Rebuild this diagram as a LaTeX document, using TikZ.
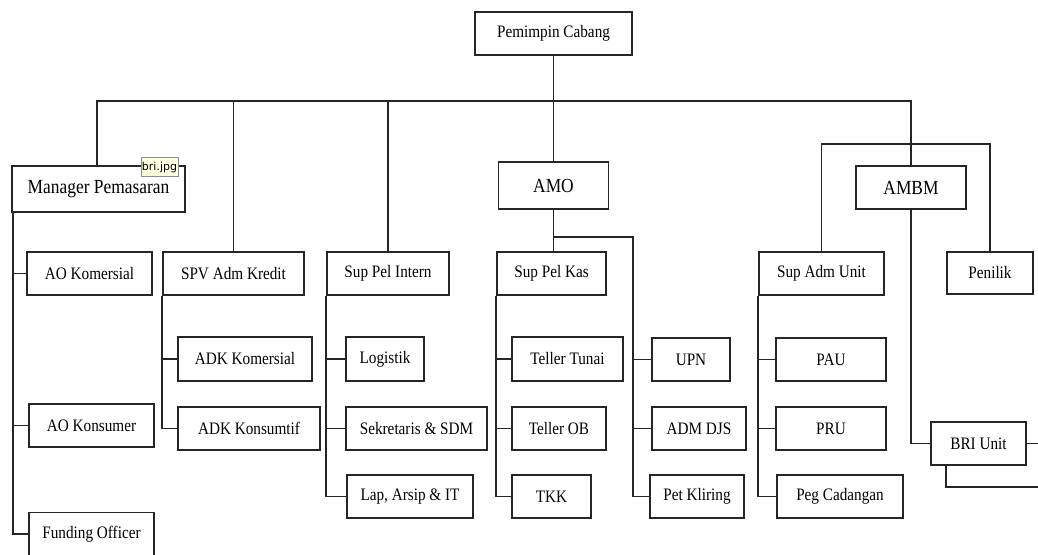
\documentclass[tikz,border=0pt]{standalone}
\usepackage{fontspec}
\setmainfont[FakeStretch=0.87]{Liberation Serif}
\newfontfamily\tipfont{DejaVu Sans}
\begin{document}
\begin{tikzpicture}[x=1pt,y=-1pt,
  box/.style={draw=black!85, line width=1.7pt, inner sep=0pt, font=\fontsize{17.5}{17.5}\selectfont},
  bigbox/.style={box, font=\fontsize{20}{20}\selectfont},
  conn/.style={draw=black!85, line width=1.7pt},
  tip/.style={draw=black!45, fill={rgb,255:red,255;green,255;blue,225}, line width=0.6pt, inner sep=1pt, minimum width=33pt, minimum height=19pt, font=\tipfont\fontsize{11}{11}\selectfont}]
\useasboundingbox (0,0) rectangle (1038,554);
% top levels
\node[box, minimum width=157pt, minimum height=43pt] (pc) at (553.5,33.5) {Pemimpin Cabang};
\node[bigbox, minimum width=173pt, minimum height=46pt] (mp) at (98.5,189) {Manager Pemasaran};
\node[bigbox, minimum width=110pt, minimum height=47pt] (amo) at (553.5,185.5) {AMO};
\node[bigbox, minimum width=110pt, minimum height=43pt] (ambm) at (911,187.5) {AMBM};
% column heads
\node[box, minimum width=125pt, minimum height=43pt] (aok) at (89.5,273.5) {AO Komersial};
\node[box, minimum width=125pt, minimum height=43pt] (aokon) at (91.5,425.5) {AO Konsumer};
\node[box, minimum width=125pt, minimum height=43pt] (fo) at (91.5,534) {Funding Officer};
\node[box, minimum width=141pt, minimum height=43pt] (spv) at (233.5,273.5) {SPV Adm Kredit};
\node[box, minimum width=134pt, minimum height=44pt] (adkk) at (245,359) {ADK Komersial};
\node[box, minimum width=142pt, minimum height=43pt] (adkn) at (249,428.5) {ADK Konsumtif};
\node[box, minimum width=122pt, minimum height=43pt] (spi) at (388,273.5) {Sup Pel Intern};
\node[box, minimum width=78pt, minimum height=44pt] (log) at (385,359) {Logistik};
\node[box, minimum width=141pt, minimum height=43pt] (sek) at (416.5,428.5) {Sekretaris \& SDM};
\node[box, minimum width=126pt, minimum height=43pt] (lap) at (410,496.5) {Lap, Arsip \& IT};
\node[box, minimum width=109pt, minimum height=43pt] (spk) at (551.5,273.5) {Sup Pel Kas};
\node[box, minimum width=111pt, minimum height=44pt] (tt) at (567.5,359) {Teller Tunai};
\node[box, minimum width=94pt, minimum height=43pt] (tob) at (559,428.5) {Teller OB};
\node[box, minimum width=79pt, minimum height=43pt] (tkk) at (551.5,496.5) {TKK};
\node[box, minimum width=78pt, minimum height=43pt] (upn) at (691,359.5) {UPN};
\node[box, minimum width=94pt, minimum height=43pt] (adm) at (699,428.5) {ADM DJS};
\node[box, minimum width=94pt, minimum height=43pt] (pet) at (697,496.5) {Pet Kliring};
\node[box, minimum width=125pt, minimum height=43pt] (sau) at (821.5,273.5) {Sup Adm Unit};
\node[box, minimum width=86pt, minimum height=42pt] (pen) at (990,273) {Penilik};
\node[box, minimum width=110pt, minimum height=43pt] (pau) at (831,359.5) {PAU};
\node[box, minimum width=110pt, minimum height=43pt] (pru) at (831,428.5) {PRU};
\node[box, minimum width=126pt, minimum height=43pt] (peg) at (840,496.5) {Peg Cadangan};
\node[box, minimum width=95pt, minimum height=43pt] (bri) at (978.5,443.5) {BRI Unit};
% tooltip
\node[tip] (tipnode) at (159.5,167) {bri.jpg};
% coordinates
\coordinate (barL) at (97,101);
\coordinate (barR) at (911,101);
\coordinate (mpL) at (13,212);
\coordinate (amoR) at (633,237);
\coordinate (ambT) at (820,144);
\coordinate (edge) at (1040,487);
% main bar
\draw[conn] (barL |- mp.north) -- (barL) -- (barR) -- (ambm.north);
\draw[conn] (pc.south) -- (amo.north);
\draw[conn] (spv.north) -- (spv.north |- barL);
\draw[conn] (spi.north) -- (spi.north |- barL);
% manager pemasaran
\draw[conn] (mpL) |- (fo.west);
\draw[conn] (mpL |- aok.west) -- (aok.west);
\draw[conn] (mpL |- aokon.west) -- (aokon.west);
% spv
\draw[conn] (spv.south west) |- (adkn.west);
\draw[conn] (spv.south west |- adkk.west) -- (adkk.west);
% sup pel intern
\draw[conn] (spi.south west) |- (lap.west);
\draw[conn] (spi.south west |- log.west) -- (log.west);
\draw[conn] (spi.south west |- sek.west) -- (sek.west);
% sup pel kas
\draw[conn] (spk.south west) |- (tkk.west);
\draw[conn] (spk.south west |- tt.west) -- (tt.west);
\draw[conn] (spk.south west |- tob.west) -- (tob.west);
% amo
\draw[conn] (amo.south) -- (amo.south |- spk.north);
\draw[conn] (amo.south |- amoR) -- (amoR) |- (pet.west);
\draw[conn] (amoR |- upn.west) -- (upn.west);
\draw[conn] (amoR |- adm.west) -- (adm.west);
% ambm
\draw[conn] (sau.north) |- (pen.north |- ambT) -- (pen.north);
\draw[conn] (ambm.south) |- (bri.west);
\draw[conn] (sau.south west) |- (peg.west);
\draw[conn] (sau.south west |- pau.west) -- (pau.west);
\draw[conn] (sau.south west |- pru.west) -- (pru.west);
\draw[conn] (bri.east) -- (bri.east -| edge);
\draw[conn] ([xshift=16pt]bri.south west) |- (edge);
\end{tikzpicture}
\end{document}
